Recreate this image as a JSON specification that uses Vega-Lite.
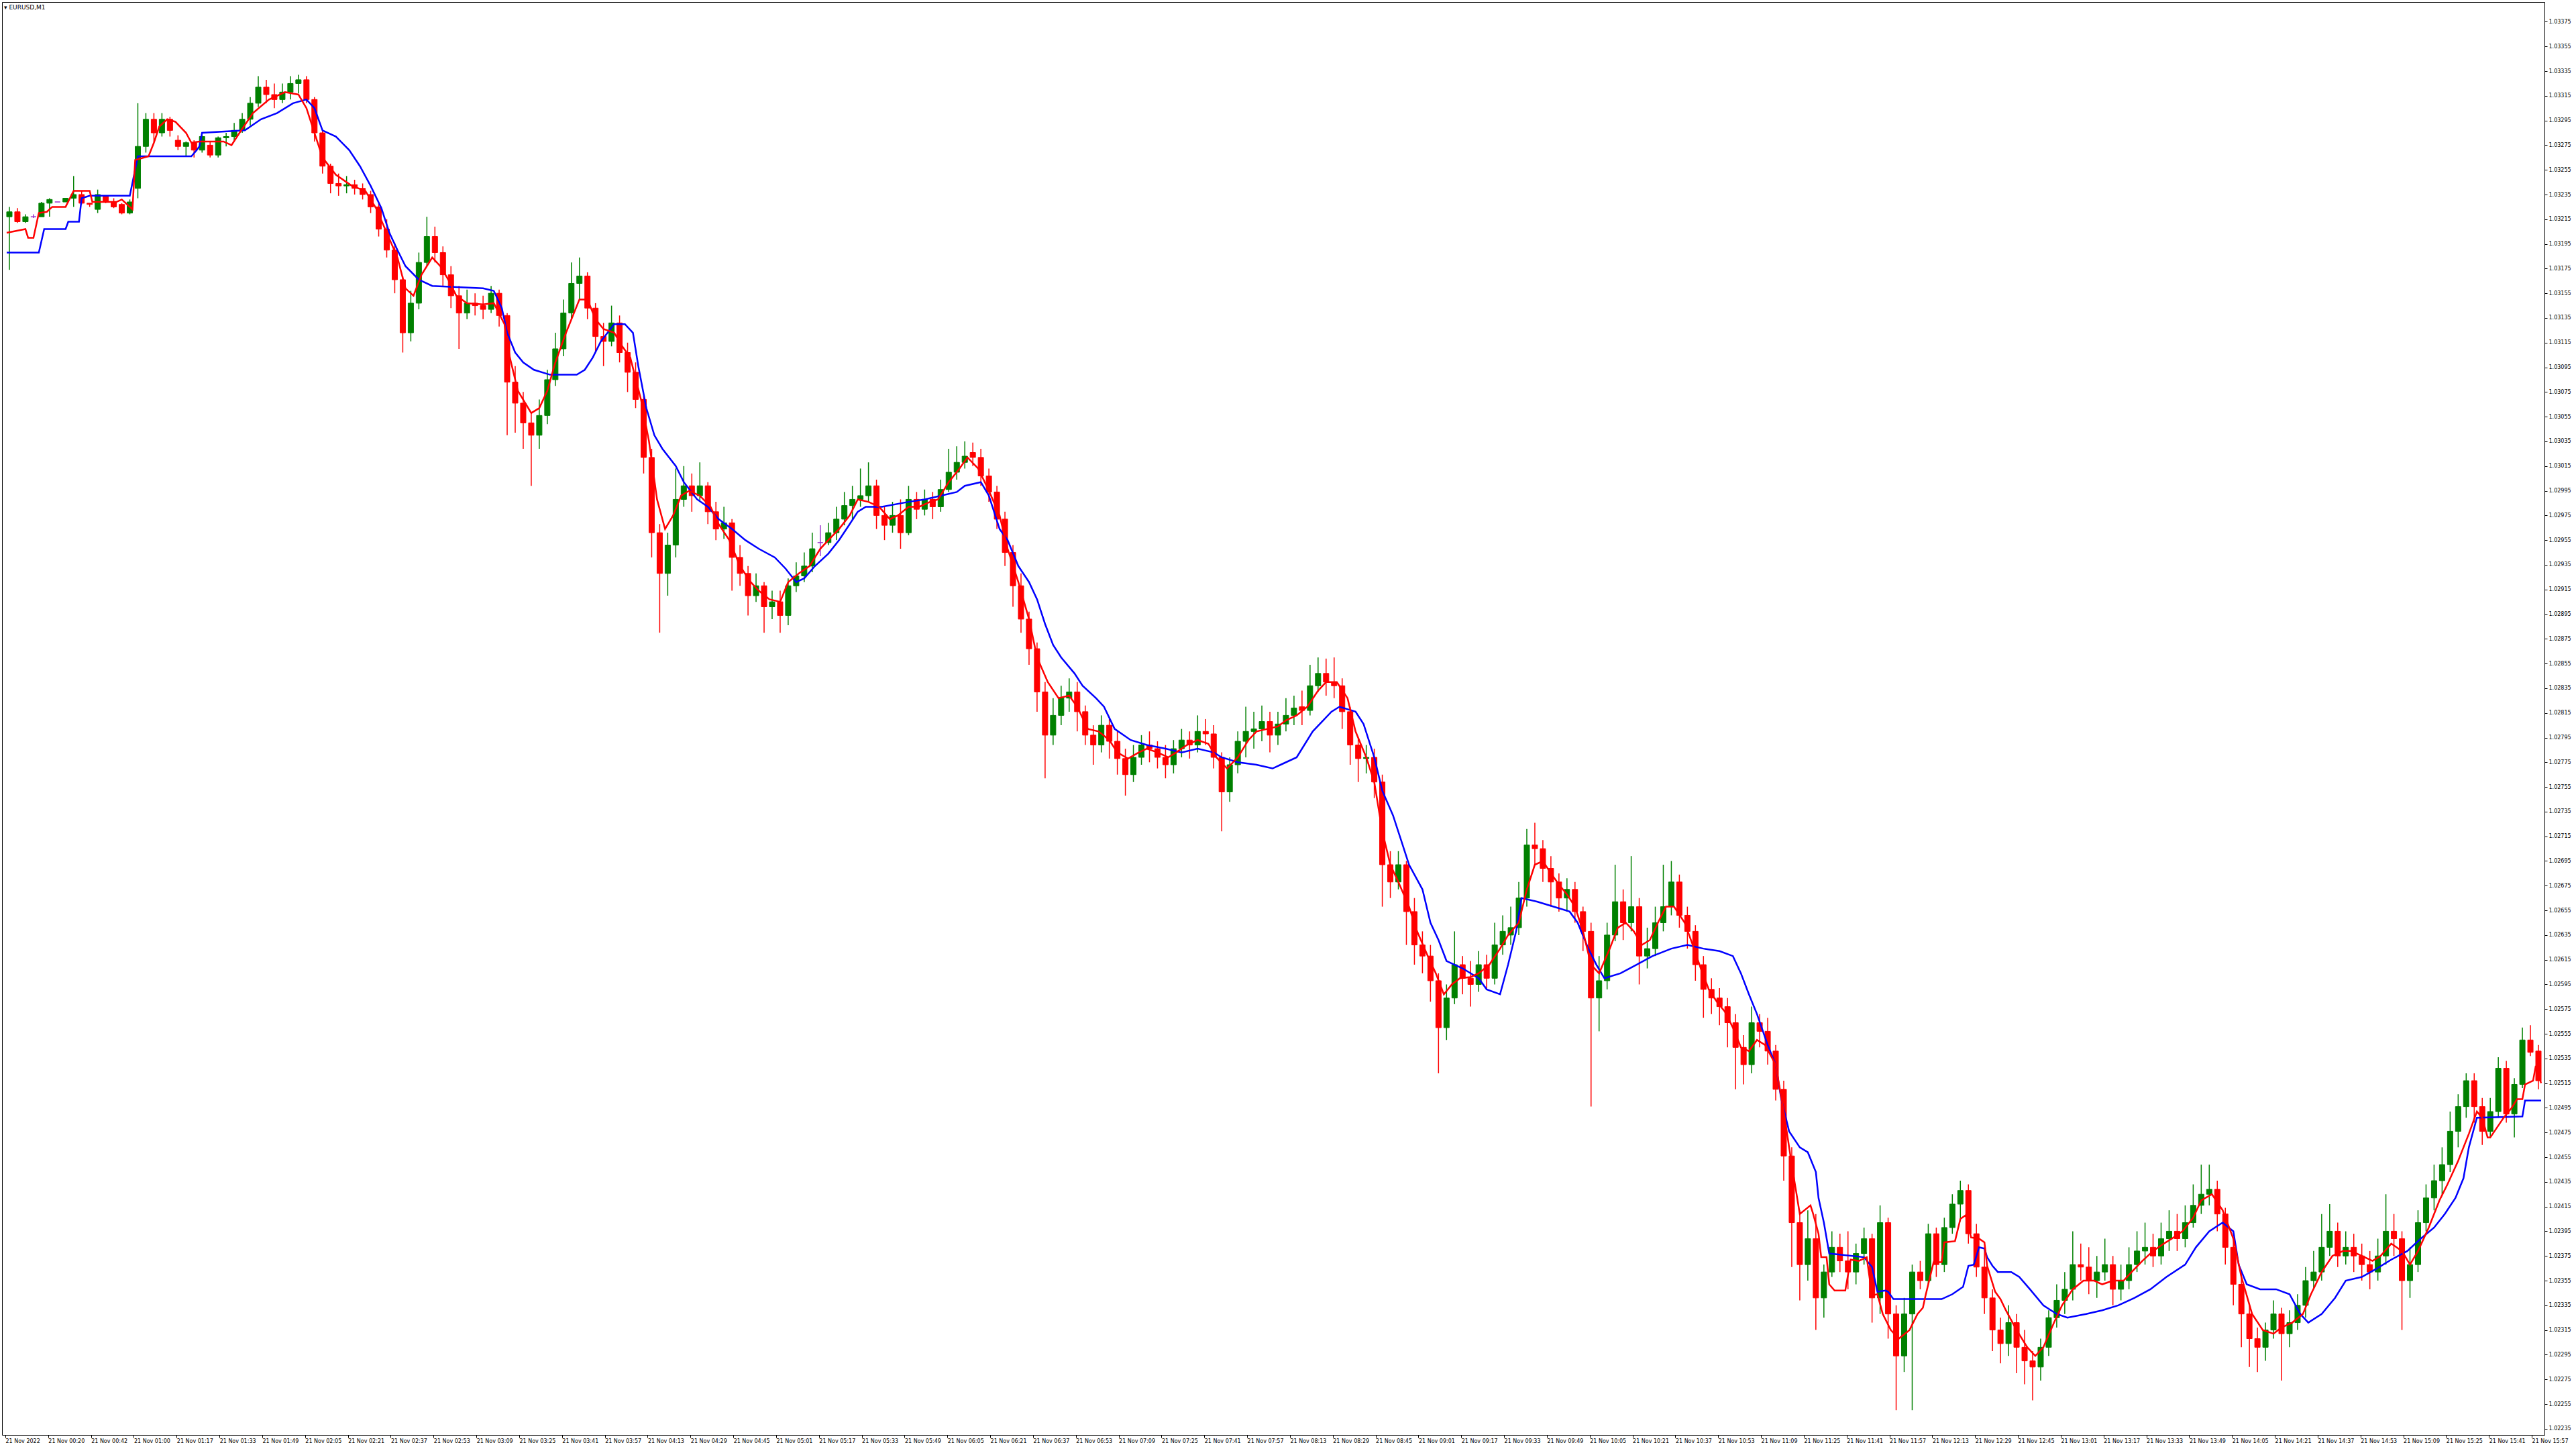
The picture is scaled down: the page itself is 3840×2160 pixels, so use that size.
{
"$schema": "https://vega.github.io/schema/vega-lite/v6.json",
"width": 3790, "height": 2136,
"autosize": {"type": "none"},
"padding": {"left": 3, "top": 3, "right": 47, "bottom": 21},
"background": "#ffffff",
"config": {"view": {"stroke": "#000000", "strokeWidth": 1}, "font": "DejaVu Sans", "axis": {"labelOverlap": false}},
"title": {"text": "▾ EURUSD,M1", "anchor": "start", "frame": "group", "orient": "none", "offset": 0, "baseline": "top", "align": "left", "dx": 3, "dy": 4, "fontSize": 9, "fontWeight": "normal", "font": "DejaVu Sans", "color": "#000000"},
"datasets": {
"candles": [
{"i":1,"o":1.03217,"h":1.03225,"l":1.03174,"c":1.03221},
{"i":4,"o":1.03221,"h":1.03224,"l":1.03212,"c":1.03213},
{"i":7,"o":1.03213,"h":1.03219,"l":1.03212,"c":1.03217},
{"i":10,"o":1.03217,"h":1.03219,"l":1.03216,"c":1.03217},
{"i":13,"o":1.03217,"h":1.03229,"l":1.03217,"c":1.03228},
{"i":16,"o":1.03228,"h":1.03232,"l":1.03217,"c":1.03231},
{"i":19,"o":1.03229,"h":1.03229,"l":1.03229,"c":1.03229},
{"i":22,"o":1.03229,"h":1.03232,"l":1.03229,"c":1.03232},
{"i":25,"o":1.03232,"h":1.0325,"l":1.03225,"c":1.03235},
{"i":28,"o":1.03235,"h":1.03238,"l":1.03227,"c":1.03228},
{"i":31,"o":1.03228,"h":1.03228,"l":1.03225,"c":1.03227},
{"i":34,"o":1.03223,"h":1.03239,"l":1.0322,"c":1.03235},
{"i":37,"o":1.03234,"h":1.03234,"l":1.03228,"c":1.03229},
{"i":40,"o":1.03229,"h":1.03232,"l":1.03224,"c":1.03225},
{"i":43,"o":1.03227,"h":1.03228,"l":1.03219,"c":1.0322},
{"i":46,"o":1.0322,"h":1.03231,"l":1.03219,"c":1.03229},
{"i":49,"o":1.0324,"h":1.03309,"l":1.03232,"c":1.03274},
{"i":52,"o":1.03274,"h":1.03301,"l":1.03269,"c":1.03296},
{"i":55,"o":1.03296,"h":1.03301,"l":1.03278,"c":1.03285},
{"i":58,"o":1.03285,"h":1.03301,"l":1.03282,"c":1.03296},
{"i":61,"o":1.03296,"h":1.03298,"l":1.03282,"c":1.03287},
{"i":64,"o":1.03279,"h":1.03283,"l":1.03271,"c":1.03274},
{"i":67,"o":1.03274,"h":1.03278,"l":1.03266,"c":1.03277},
{"i":70,"o":1.03277,"h":1.03279,"l":1.03265,"c":1.03271},
{"i":73,"o":1.03271,"h":1.03285,"l":1.03269,"c":1.03282},
{"i":76,"o":1.03275,"h":1.03278,"l":1.03265,"c":1.03267},
{"i":79,"o":1.03267,"h":1.03282,"l":1.03265,"c":1.03281},
{"i":82,"o":1.03281,"h":1.03285,"l":1.03274,"c":1.03282},
{"i":85,"o":1.03282,"h":1.03293,"l":1.03278,"c":1.03287},
{"i":88,"o":1.03287,"h":1.03301,"l":1.03285,"c":1.03296},
{"i":91,"o":1.03296,"h":1.03314,"l":1.03291,"c":1.03309},
{"i":94,"o":1.03309,"h":1.03331,"l":1.03306,"c":1.03322},
{"i":97,"o":1.03322,"h":1.03328,"l":1.03309,"c":1.03316},
{"i":100,"o":1.03316,"h":1.03325,"l":1.03305,"c":1.03312},
{"i":103,"o":1.03312,"h":1.03325,"l":1.03309,"c":1.03318},
{"i":106,"o":1.03318,"h":1.03331,"l":1.03312,"c":1.03325},
{"i":109,"o":1.03325,"h":1.03332,"l":1.03317,"c":1.03328},
{"i":112,"o":1.03328,"h":1.03331,"l":1.03309,"c":1.03312},
{"i":115,"o":1.03312,"h":1.03314,"l":1.03278,"c":1.03285},
{"i":118,"o":1.03285,"h":1.03287,"l":1.03252,"c":1.03258},
{"i":121,"o":1.03258,"h":1.0326,"l":1.03236,"c":1.03244},
{"i":124,"o":1.03244,"h":1.03252,"l":1.03234,"c":1.03242},
{"i":127,"o":1.03242,"h":1.0325,"l":1.03236,"c":1.03243},
{"i":130,"o":1.03243,"h":1.03247,"l":1.03235,"c":1.0324},
{"i":133,"o":1.0324,"h":1.03244,"l":1.03231,"c":1.03235},
{"i":136,"o":1.03235,"h":1.03238,"l":1.0322,"c":1.03225},
{"i":139,"o":1.03225,"h":1.03228,"l":1.03201,"c":1.03207},
{"i":142,"o":1.03207,"h":1.03215,"l":1.03184,"c":1.0319},
{"i":145,"o":1.0319,"h":1.03196,"l":1.03155,"c":1.03166},
{"i":148,"o":1.03166,"h":1.03169,"l":1.03107,"c":1.03123},
{"i":151,"o":1.03123,"h":1.03157,"l":1.03116,"c":1.03147},
{"i":154,"o":1.03147,"h":1.03188,"l":1.03142,"c":1.0318},
{"i":157,"o":1.0318,"h":1.03217,"l":1.03177,"c":1.03201},
{"i":160,"o":1.03201,"h":1.03209,"l":1.0318,"c":1.03188},
{"i":163,"o":1.03188,"h":1.03193,"l":1.03161,"c":1.0317},
{"i":166,"o":1.0317,"h":1.03177,"l":1.03143,"c":1.03153},
{"i":169,"o":1.03153,"h":1.03161,"l":1.0311,"c":1.03139},
{"i":172,"o":1.03139,"h":1.03158,"l":1.03134,"c":1.03147},
{"i":175,"o":1.03147,"h":1.03155,"l":1.03137,"c":1.03145},
{"i":178,"o":1.03145,"h":1.03153,"l":1.03134,"c":1.03142},
{"i":181,"o":1.03142,"h":1.03161,"l":1.03139,"c":1.03155},
{"i":184,"o":1.03155,"h":1.03158,"l":1.03128,"c":1.03137},
{"i":187,"o":1.03137,"h":1.03139,"l":1.0304,"c":1.03083},
{"i":190,"o":1.03083,"h":1.03096,"l":1.03042,"c":1.03066},
{"i":193,"o":1.03066,"h":1.03075,"l":1.03029,"c":1.0305},
{"i":196,"o":1.0305,"h":1.03058,"l":1.02999,"c":1.0304},
{"i":199,"o":1.0304,"h":1.03069,"l":1.03029,"c":1.03056},
{"i":202,"o":1.03056,"h":1.03093,"l":1.03049,"c":1.03085},
{"i":205,"o":1.03085,"h":1.03123,"l":1.0308,"c":1.0311},
{"i":208,"o":1.0311,"h":1.0315,"l":1.03104,"c":1.03139},
{"i":211,"o":1.03139,"h":1.0318,"l":1.03134,"c":1.03163},
{"i":214,"o":1.03163,"h":1.03184,"l":1.0315,"c":1.03169},
{"i":217,"o":1.03169,"h":1.03172,"l":1.03134,"c":1.03143},
{"i":220,"o":1.03143,"h":1.03147,"l":1.03107,"c":1.0312},
{"i":223,"o":1.0312,"h":1.03131,"l":1.03096,"c":1.03116},
{"i":226,"o":1.03116,"h":1.03145,"l":1.03112,"c":1.03131},
{"i":229,"o":1.03131,"h":1.03137,"l":1.03099,"c":1.03107},
{"i":232,"o":1.03107,"h":1.03115,"l":1.03075,"c":1.03091},
{"i":235,"o":1.03091,"h":1.03099,"l":1.03062,"c":1.03069},
{"i":238,"o":1.03069,"h":1.03072,"l":1.03009,"c":1.03022},
{"i":241,"o":1.03022,"h":1.03029,"l":1.02941,"c":1.02961},
{"i":244,"o":1.02961,"h":1.02968,"l":1.0288,"c":1.02928},
{"i":247,"o":1.02928,"h":1.02961,"l":1.0291,"c":1.02951},
{"i":250,"o":1.02951,"h":1.03013,"l":1.02941,"c":1.02988},
{"i":253,"o":1.02988,"h":1.03015,"l":1.02982,"c":1.02999},
{"i":256,"o":1.02999,"h":1.03009,"l":1.02978,"c":1.02991},
{"i":259,"o":1.02991,"h":1.03018,"l":1.02986,"c":1.02999},
{"i":262,"o":1.02999,"h":1.03002,"l":1.02968,"c":1.02978},
{"i":265,"o":1.02978,"h":1.02986,"l":1.02955,"c":1.02964},
{"i":268,"o":1.02964,"h":1.02982,"l":1.02956,"c":1.02969},
{"i":271,"o":1.02969,"h":1.02972,"l":1.02914,"c":1.02941},
{"i":274,"o":1.02941,"h":1.02951,"l":1.02918,"c":1.02928},
{"i":277,"o":1.02928,"h":1.02934,"l":1.02894,"c":1.0291},
{"i":280,"o":1.0291,"h":1.02928,"l":1.02905,"c":1.02918},
{"i":283,"o":1.02918,"h":1.02921,"l":1.0288,"c":1.02901},
{"i":286,"o":1.02901,"h":1.02914,"l":1.02891,"c":1.02905},
{"i":289,"o":1.02905,"h":1.02914,"l":1.0288,"c":1.02894},
{"i":292,"o":1.02894,"h":1.02924,"l":1.02886,"c":1.02918},
{"i":295,"o":1.02918,"h":1.02937,"l":1.02913,"c":1.02926},
{"i":298,"o":1.02926,"h":1.02945,"l":1.02921,"c":1.02934},
{"i":301,"o":1.02934,"h":1.02961,"l":1.02929,"c":1.02948},
{"i":304,"o":1.02953,"h":1.02967,"l":1.02942,"c":1.02953},
{"i":307,"o":1.02953,"h":1.02969,"l":1.02951,"c":1.02961},
{"i":310,"o":1.02961,"h":1.02982,"l":1.02955,"c":1.02972},
{"i":313,"o":1.02972,"h":1.02994,"l":1.02967,"c":1.02983},
{"i":316,"o":1.02983,"h":1.02999,"l":1.02972,"c":1.02988},
{"i":319,"o":1.02988,"h":1.03013,"l":1.02982,"c":1.02991},
{"i":322,"o":1.02991,"h":1.03018,"l":1.02986,"c":1.02999},
{"i":325,"o":1.02999,"h":1.03004,"l":1.02964,"c":1.02975},
{"i":328,"o":1.02975,"h":1.02982,"l":1.02955,"c":1.02967},
{"i":331,"o":1.02967,"h":1.02986,"l":1.02961,"c":1.02975},
{"i":334,"o":1.02975,"h":1.02988,"l":1.02948,"c":1.02961},
{"i":337,"o":1.02961,"h":1.02999,"l":1.02959,"c":1.02988},
{"i":340,"o":1.02988,"h":1.02994,"l":1.02972,"c":1.0298},
{"i":343,"o":1.0298,"h":1.02996,"l":1.02975,"c":1.02988},
{"i":346,"o":1.02988,"h":1.02994,"l":1.02972,"c":1.02982},
{"i":349,"o":1.02982,"h":1.03004,"l":1.02978,"c":1.02996},
{"i":352,"o":1.02996,"h":1.03029,"l":1.02994,"c":1.0301},
{"i":355,"o":1.0301,"h":1.03031,"l":1.03004,"c":1.03018},
{"i":358,"o":1.03018,"h":1.03035,"l":1.03013,"c":1.03023},
{"i":361,"o":1.03026,"h":1.03034,"l":1.03015,"c":1.03022},
{"i":364,"o":1.03022,"h":1.03029,"l":1.02999,"c":1.03007},
{"i":367,"o":1.03007,"h":1.03013,"l":1.02986,"c":1.02994},
{"i":370,"o":1.02994,"h":1.02999,"l":1.02964,"c":1.02972},
{"i":373,"o":1.02972,"h":1.02978,"l":1.02934,"c":1.02945},
{"i":376,"o":1.02945,"h":1.02951,"l":1.02901,"c":1.02918},
{"i":379,"o":1.02918,"h":1.02928,"l":1.0288,"c":1.02891},
{"i":382,"o":1.02891,"h":1.02897,"l":1.02854,"c":1.02867},
{"i":385,"o":1.02867,"h":1.02872,"l":1.02816,"c":1.02832},
{"i":388,"o":1.02832,"h":1.0284,"l":1.02762,"c":1.02797},
{"i":391,"o":1.02797,"h":1.02827,"l":1.02789,"c":1.02813},
{"i":394,"o":1.02813,"h":1.02837,"l":1.02805,"c":1.02827},
{"i":397,"o":1.02827,"h":1.02843,"l":1.02816,"c":1.02832},
{"i":400,"o":1.02832,"h":1.0284,"l":1.028,"c":1.02816},
{"i":403,"o":1.02816,"h":1.02821,"l":1.02789,"c":1.02797},
{"i":406,"o":1.02797,"h":1.02805,"l":1.02773,"c":1.02789},
{"i":409,"o":1.02789,"h":1.02813,"l":1.02783,"c":1.02805},
{"i":412,"o":1.02805,"h":1.0281,"l":1.02778,"c":1.02792},
{"i":415,"o":1.02792,"h":1.028,"l":1.02765,"c":1.02778},
{"i":418,"o":1.02778,"h":1.02786,"l":1.02748,"c":1.02765},
{"i":421,"o":1.02765,"h":1.02789,"l":1.02759,"c":1.02779},
{"i":424,"o":1.02779,"h":1.02797,"l":1.02773,"c":1.02789},
{"i":427,"o":1.02789,"h":1.028,"l":1.02775,"c":1.02786},
{"i":430,"o":1.02786,"h":1.02792,"l":1.0277,"c":1.02779},
{"i":433,"o":1.02779,"h":1.02789,"l":1.02762,"c":1.02773},
{"i":436,"o":1.02773,"h":1.02793,"l":1.02766,"c":1.02786},
{"i":439,"o":1.02786,"h":1.02802,"l":1.02779,"c":1.02793},
{"i":442,"o":1.02793,"h":1.028,"l":1.02778,"c":1.02789},
{"i":445,"o":1.02789,"h":1.02813,"l":1.02783,"c":1.028},
{"i":448,"o":1.028,"h":1.0281,"l":1.02789,"c":1.02798},
{"i":451,"o":1.02798,"h":1.02805,"l":1.0277,"c":1.02779},
{"i":454,"o":1.02779,"h":1.02783,"l":1.02719,"c":1.02751},
{"i":457,"o":1.02751,"h":1.02779,"l":1.02743,"c":1.02773},
{"i":460,"o":1.02773,"h":1.028,"l":1.02766,"c":1.02792},
{"i":463,"o":1.02792,"h":1.0282,"l":1.02779,"c":1.028},
{"i":466,"o":1.028,"h":1.02816,"l":1.02786,"c":1.02802},
{"i":469,"o":1.02802,"h":1.02821,"l":1.02792,"c":1.02808},
{"i":472,"o":1.02808,"h":1.02816,"l":1.02783,"c":1.02797},
{"i":475,"o":1.02797,"h":1.02816,"l":1.02789,"c":1.02806},
{"i":478,"o":1.02806,"h":1.02827,"l":1.028,"c":1.02813},
{"i":481,"o":1.02813,"h":1.02829,"l":1.02805,"c":1.02819},
{"i":484,"o":1.0282,"h":1.02833,"l":1.02805,"c":1.02817},
{"i":487,"o":1.02817,"h":1.02854,"l":1.02813,"c":1.02837},
{"i":490,"o":1.02837,"h":1.0286,"l":1.02832,"c":1.02847},
{"i":493,"o":1.02847,"h":1.02859,"l":1.02829,"c":1.0284},
{"i":496,"o":1.0284,"h":1.0286,"l":1.02827,"c":1.02837},
{"i":499,"o":1.02837,"h":1.02843,"l":1.02802,"c":1.02816},
{"i":502,"o":1.02816,"h":1.0282,"l":1.02773,"c":1.02789},
{"i":505,"o":1.02789,"h":1.02794,"l":1.02759,"c":1.02778},
{"i":508,"o":1.02778,"h":1.02789,"l":1.02766,"c":1.02779},
{"i":511,"o":1.02779,"h":1.02786,"l":1.02746,"c":1.02759},
{"i":514,"o":1.02759,"h":1.02765,"l":1.02658,"c":1.02692},
{"i":517,"o":1.02692,"h":1.02703,"l":1.02665,"c":1.02678},
{"i":520,"o":1.02678,"h":1.02703,"l":1.02672,"c":1.02692},
{"i":523,"o":1.02692,"h":1.02695,"l":1.02627,"c":1.02654},
{"i":526,"o":1.02654,"h":1.02665,"l":1.02611,"c":1.02627},
{"i":529,"o":1.02627,"h":1.02638,"l":1.02604,"c":1.02618},
{"i":532,"o":1.02618,"h":1.02627,"l":1.02581,"c":1.02598},
{"i":535,"o":1.02598,"h":1.02604,"l":1.02523,"c":1.0256},
{"i":538,"o":1.0256,"h":1.02595,"l":1.0255,"c":1.02584},
{"i":541,"o":1.02584,"h":1.02638,"l":1.02579,"c":1.02611},
{"i":544,"o":1.02611,"h":1.02618,"l":1.02587,"c":1.026},
{"i":547,"o":1.026,"h":1.02614,"l":1.02577,"c":1.02595},
{"i":550,"o":1.02595,"h":1.02622,"l":1.02589,"c":1.02611},
{"i":553,"o":1.02611,"h":1.02619,"l":1.02591,"c":1.026},
{"i":556,"o":1.026,"h":1.02645,"l":1.02595,"c":1.02627},
{"i":559,"o":1.02627,"h":1.02651,"l":1.02619,"c":1.02638},
{"i":562,"o":1.02635,"h":1.02658,"l":1.02627,"c":1.02641},
{"i":565,"o":1.02641,"h":1.02678,"l":1.02635,"c":1.02665},
{"i":568,"o":1.02665,"h":1.02721,"l":1.02658,"c":1.02708},
{"i":571,"o":1.02708,"h":1.02726,"l":1.02692,"c":1.02705},
{"i":574,"o":1.02705,"h":1.02712,"l":1.02678,"c":1.02689},
{"i":577,"o":1.02689,"h":1.02699,"l":1.02658,"c":1.02678},
{"i":580,"o":1.02678,"h":1.02685,"l":1.02654,"c":1.02665},
{"i":583,"o":1.02665,"h":1.02681,"l":1.02654,"c":1.02672},
{"i":586,"o":1.02672,"h":1.02678,"l":1.02645,"c":1.02654},
{"i":589,"o":1.02654,"h":1.02658,"l":1.02622,"c":1.02638},
{"i":592,"o":1.02638,"h":1.02645,"l":1.02496,"c":1.02584},
{"i":595,"o":1.02584,"h":1.02618,"l":1.02557,"c":1.02598},
{"i":598,"o":1.02598,"h":1.02645,"l":1.02591,"c":1.02635},
{"i":601,"o":1.02635,"h":1.02692,"l":1.0263,"c":1.02662},
{"i":604,"o":1.02662,"h":1.02672,"l":1.02631,"c":1.02645},
{"i":607,"o":1.02645,"h":1.02699,"l":1.02638,"c":1.02658},
{"i":610,"o":1.02658,"h":1.02665,"l":1.02595,"c":1.02618},
{"i":613,"o":1.02618,"h":1.02641,"l":1.02608,"c":1.02624},
{"i":616,"o":1.02624,"h":1.02658,"l":1.02618,"c":1.02645},
{"i":619,"o":1.02645,"h":1.02692,"l":1.02638,"c":1.02658},
{"i":622,"o":1.02658,"h":1.02695,"l":1.02651,"c":1.02678},
{"i":625,"o":1.02678,"h":1.02684,"l":1.02641,"c":1.02651},
{"i":628,"o":1.02651,"h":1.02658,"l":1.02624,"c":1.02638},
{"i":631,"o":1.02638,"h":1.02643,"l":1.02598,"c":1.02611},
{"i":634,"o":1.02611,"h":1.02618,"l":1.02568,"c":1.02591},
{"i":637,"o":1.02591,"h":1.026,"l":1.02571,"c":1.02584},
{"i":640,"o":1.02584,"h":1.02592,"l":1.02562,"c":1.02577},
{"i":643,"o":1.02577,"h":1.02584,"l":1.02544,"c":1.02564},
{"i":646,"o":1.02564,"h":1.02571,"l":1.0251,"c":1.02544},
{"i":649,"o":1.02544,"h":1.02554,"l":1.02514,"c":1.0253},
{"i":652,"o":1.0253,"h":1.02577,"l":1.02523,"c":1.02564},
{"i":655,"o":1.02564,"h":1.02571,"l":1.02544,"c":1.02557},
{"i":658,"o":1.02557,"h":1.02568,"l":1.0253,"c":1.02541},
{"i":661,"o":1.02541,"h":1.02546,"l":1.02501,"c":1.0251},
{"i":664,"o":1.0251,"h":1.02517,"l":1.02436,"c":1.02456},
{"i":667,"o":1.02456,"h":1.02463,"l":1.02366,"c":1.02402},
{"i":670,"o":1.02402,"h":1.02412,"l":1.02339,"c":1.02368},
{"i":673,"o":1.02368,"h":1.02412,"l":1.02355,"c":1.02389},
{"i":676,"o":1.02389,"h":1.02409,"l":1.02315,"c":1.02341},
{"i":679,"o":1.02341,"h":1.02368,"l":1.02325,"c":1.02362},
{"i":682,"o":1.02362,"h":1.02395,"l":1.02358,"c":1.02382},
{"i":685,"o":1.02382,"h":1.02393,"l":1.02362,"c":1.02371},
{"i":688,"o":1.02371,"h":1.02395,"l":1.02348,"c":1.02362},
{"i":691,"o":1.02362,"h":1.02385,"l":1.02352,"c":1.02377},
{"i":694,"o":1.02377,"h":1.02398,"l":1.02368,"c":1.02389},
{"i":697,"o":1.02389,"h":1.02393,"l":1.02321,"c":1.02341},
{"i":700,"o":1.02341,"h":1.02416,"l":1.02328,"c":1.02402},
{"i":703,"o":1.02402,"h":1.02406,"l":1.02308,"c":1.02328},
{"i":706,"o":1.02328,"h":1.02335,"l":1.0225,"c":1.02294},
{"i":709,"o":1.02294,"h":1.02341,"l":1.02281,"c":1.02328},
{"i":712,"o":1.02328,"h":1.02368,"l":1.0225,"c":1.02362},
{"i":715,"o":1.02362,"h":1.02371,"l":1.02348,"c":1.02355},
{"i":718,"o":1.02355,"h":1.02401,"l":1.02352,"c":1.02393},
{"i":721,"o":1.02393,"h":1.02398,"l":1.02358,"c":1.02368},
{"i":724,"o":1.02368,"h":1.02406,"l":1.02362,"c":1.02398},
{"i":727,"o":1.02398,"h":1.02425,"l":1.02393,"c":1.02417},
{"i":730,"o":1.02417,"h":1.02436,"l":1.02403,"c":1.02428},
{"i":733,"o":1.02428,"h":1.02433,"l":1.02385,"c":1.02393},
{"i":736,"o":1.02393,"h":1.02401,"l":1.02358,"c":1.02366},
{"i":739,"o":1.02366,"h":1.02382,"l":1.02328,"c":1.02341},
{"i":742,"o":1.02341,"h":1.02348,"l":1.02298,"c":1.02315},
{"i":745,"o":1.02315,"h":1.02325,"l":1.02288,"c":1.02304},
{"i":748,"o":1.02304,"h":1.02335,"l":1.02294,"c":1.02321},
{"i":751,"o":1.02321,"h":1.02328,"l":1.0228,"c":1.02301},
{"i":754,"o":1.02301,"h":1.02315,"l":1.02271,"c":1.0229},
{"i":757,"o":1.0229,"h":1.02298,"l":1.02258,"c":1.02285},
{"i":760,"o":1.02285,"h":1.02308,"l":1.02274,"c":1.02301},
{"i":763,"o":1.02301,"h":1.02331,"l":1.02294,"c":1.02325},
{"i":766,"o":1.02325,"h":1.02352,"l":1.02317,"c":1.02339},
{"i":769,"o":1.02339,"h":1.02362,"l":1.02328,"c":1.02348},
{"i":772,"o":1.02348,"h":1.02395,"l":1.02339,"c":1.02368},
{"i":775,"o":1.02368,"h":1.02385,"l":1.02355,"c":1.02366},
{"i":778,"o":1.02366,"h":1.02382,"l":1.02344,"c":1.02355},
{"i":781,"o":1.02355,"h":1.02375,"l":1.02341,"c":1.02362},
{"i":784,"o":1.02362,"h":1.02389,"l":1.02355,"c":1.02368},
{"i":787,"o":1.02368,"h":1.02375,"l":1.02335,"c":1.02348},
{"i":790,"o":1.02348,"h":1.02368,"l":1.02339,"c":1.02355},
{"i":793,"o":1.02355,"h":1.02382,"l":1.02348,"c":1.02368},
{"i":796,"o":1.02368,"h":1.02395,"l":1.02362,"c":1.02379},
{"i":799,"o":1.02379,"h":1.02402,"l":1.02368,"c":1.02382},
{"i":802,"o":1.02382,"h":1.02393,"l":1.02366,"c":1.02375},
{"i":805,"o":1.02375,"h":1.02402,"l":1.02368,"c":1.02389},
{"i":808,"o":1.02389,"h":1.02412,"l":1.02379,"c":1.02395},
{"i":811,"o":1.02395,"h":1.02409,"l":1.02379,"c":1.02389},
{"i":814,"o":1.02389,"h":1.02416,"l":1.02382,"c":1.02402},
{"i":817,"o":1.02402,"h":1.02433,"l":1.02398,"c":1.02416},
{"i":820,"o":1.02416,"h":1.02449,"l":1.02409,"c":1.02425},
{"i":823,"o":1.02425,"h":1.02449,"l":1.02416,"c":1.02429},
{"i":826,"o":1.02429,"h":1.02436,"l":1.02395,"c":1.02409},
{"i":829,"o":1.02409,"h":1.02414,"l":1.02368,"c":1.02382},
{"i":832,"o":1.02382,"h":1.02389,"l":1.02335,"c":1.02352},
{"i":835,"o":1.02352,"h":1.02362,"l":1.02301,"c":1.02328},
{"i":838,"o":1.02328,"h":1.02335,"l":1.02285,"c":1.02308},
{"i":841,"o":1.02308,"h":1.02317,"l":1.02281,"c":1.02301},
{"i":844,"o":1.02301,"h":1.02321,"l":1.0229,"c":1.02315},
{"i":847,"o":1.02315,"h":1.02339,"l":1.02308,"c":1.02328},
{"i":850,"o":1.02328,"h":1.02333,"l":1.02274,"c":1.02312},
{"i":853,"o":1.02312,"h":1.02331,"l":1.02301,"c":1.02321},
{"i":856,"o":1.02321,"h":1.02344,"l":1.02315,"c":1.02335},
{"i":859,"o":1.02335,"h":1.02366,"l":1.02325,"c":1.02355},
{"i":862,"o":1.02355,"h":1.02379,"l":1.02348,"c":1.02362},
{"i":865,"o":1.02362,"h":1.02409,"l":1.02355,"c":1.02382},
{"i":868,"o":1.02382,"h":1.02417,"l":1.02375,"c":1.02395},
{"i":871,"o":1.02395,"h":1.02402,"l":1.02366,"c":1.02375},
{"i":874,"o":1.02375,"h":1.02395,"l":1.02368,"c":1.02382},
{"i":877,"o":1.02382,"h":1.02393,"l":1.02362,"c":1.02375},
{"i":880,"o":1.02375,"h":1.02385,"l":1.02355,"c":1.02368},
{"i":883,"o":1.02368,"h":1.02379,"l":1.02348,"c":1.02362},
{"i":886,"o":1.02362,"h":1.02389,"l":1.02355,"c":1.02375},
{"i":889,"o":1.02375,"h":1.02425,"l":1.02368,"c":1.02395},
{"i":892,"o":1.02395,"h":1.02409,"l":1.02375,"c":1.02389},
{"i":895,"o":1.02389,"h":1.02395,"l":1.02315,"c":1.02355},
{"i":898,"o":1.02355,"h":1.02382,"l":1.02341,"c":1.02368},
{"i":901,"o":1.02368,"h":1.02412,"l":1.02362,"c":1.02402},
{"i":904,"o":1.02402,"h":1.02433,"l":1.02395,"c":1.02422},
{"i":907,"o":1.02422,"h":1.02449,"l":1.02412,"c":1.02436},
{"i":910,"o":1.02436,"h":1.02463,"l":1.02425,"c":1.02449},
{"i":913,"o":1.02449,"h":1.02492,"l":1.02443,"c":1.02476},
{"i":916,"o":1.02476,"h":1.02506,"l":1.02463,"c":1.02496},
{"i":919,"o":1.02496,"h":1.02523,"l":1.02487,"c":1.02517},
{"i":922,"o":1.02517,"h":1.02523,"l":1.02483,"c":1.02496},
{"i":925,"o":1.02496,"h":1.02503,"l":1.02465,"c":1.02476},
{"i":928,"o":1.02476,"h":1.02503,"l":1.02471,"c":1.02492},
{"i":931,"o":1.02492,"h":1.02536,"l":1.02487,"c":1.02527},
{"i":934,"o":1.02527,"h":1.02533,"l":1.02483,"c":1.0249},
{"i":937,"o":1.0249,"h":1.02519,"l":1.02471,"c":1.02514},
{"i":940,"o":1.02514,"h":1.0256,"l":1.02511,"c":1.0255},
{"i":943,"o":1.0255,"h":1.02562,"l":1.02537,"c":1.0254},
{"i":946,"o":1.02541,"h":1.02546,"l":1.0251,"c":1.02517}
],
"red": [
{"i":0,"v":1.03204},{"i":7,"v":1.03207},{"i":8,"v":1.032},{"i":10,"v":1.032},{"i":12,"v":1.0322},{"i":15,"v":1.03221},{"i":17,"v":1.03225},{"i":22,"v":1.03225},{"i":25,"v":1.03238},{"i":31,"v":1.03238},{"i":32,"v":1.03229},{"i":41,"v":1.03229},{"i":43,"v":1.03231},{"i":45,"v":1.03227},{"i":47,"v":1.03223},{"i":48,"v":1.03263},{"i":53,"v":1.03266},{"i":55,"v":1.03277},{"i":57,"v":1.0329},{"i":60,"v":1.03296},{"i":63,"v":1.03294},{"i":67,"v":1.03285},{"i":69,"v":1.03277},{"i":72,"v":1.03278},{"i":81,"v":1.03278},{"i":84,"v":1.03275},{"i":87,"v":1.03285},{"i":92,"v":1.03301},{"i":98,"v":1.03312},{"i":104,"v":1.03318},{"i":109,"v":1.03316},{"i":112,"v":1.03305},{"i":115,"v":1.03285},{"i":118,"v":1.03265},{"i":123,"v":1.03251},{"i":129,"v":1.03242},{"i":134,"v":1.03238},{"i":138,"v":1.03224},{"i":142,"v":1.03204},{"i":146,"v":1.03184},{"i":149,"v":1.03159},{"i":152,"v":1.03153},{"i":155,"v":1.0317},{"i":159,"v":1.03184},{"i":162,"v":1.03177},{"i":165,"v":1.03166},{"i":168,"v":1.03153},{"i":172,"v":1.03147},{"i":178,"v":1.03146},{"i":182,"v":1.03147},{"i":186,"v":1.0313},{"i":188,"v":1.03103},{"i":191,"v":1.03076},{"i":196,"v":1.03058},{"i":199,"v":1.03062},{"i":202,"v":1.03076},{"i":205,"v":1.03099},{"i":209,"v":1.03123},{"i":214,"v":1.0315},{"i":217,"v":1.0315},{"i":220,"v":1.03134},{"i":223,"v":1.03126},{"i":227,"v":1.03123},{"i":230,"v":1.03112},{"i":233,"v":1.03103},{"i":237,"v":1.03069},{"i":240,"v":1.03035},{"i":243,"v":1.02988},{"i":246,"v":1.02964},{"i":249,"v":1.02975},{"i":252,"v":1.02991},{"i":255,"v":1.02995},{"i":259,"v":1.02991},{"i":263,"v":1.02982},{"i":266,"v":1.02968},{"i":270,"v":1.02955},{"i":274,"v":1.02934},{"i":278,"v":1.02921},{"i":281,"v":1.02914},{"i":285,"v":1.02907},{"i":289,"v":1.02905},{"i":292,"v":1.02921},{"i":296,"v":1.02928},{"i":300,"v":1.02934},{"i":304,"v":1.02948},{"i":307,"v":1.02955},{"i":311,"v":1.02964},{"i":315,"v":1.02975},{"i":318,"v":1.02988},{"i":322,"v":1.02986},{"i":326,"v":1.02982},{"i":330,"v":1.02972},{"i":333,"v":1.02975},{"i":337,"v":1.02982},{"i":341,"v":1.02982},{"i":345,"v":1.02986},{"i":348,"v":1.02988},{"i":352,"v":1.03002},{"i":356,"v":1.03013},{"i":359,"v":1.03022},{"i":363,"v":1.03013},{"i":367,"v":1.02995},{"i":371,"v":1.02975},{"i":374,"v":1.02948},{"i":378,"v":1.02921},{"i":382,"v":1.02891},{"i":385,"v":1.0286},{"i":389,"v":1.0284},{"i":393,"v":1.02827},{"i":397,"v":1.02829},{"i":400,"v":1.0282},{"i":404,"v":1.02802},{"i":408,"v":1.028},{"i":412,"v":1.02793},{"i":415,"v":1.02783},{"i":419,"v":1.02778},{"i":423,"v":1.02783},{"i":426,"v":1.02786},{"i":430,"v":1.02783},{"i":434,"v":1.02779},{"i":437,"v":1.02783},{"i":441,"v":1.02789},{"i":445,"v":1.02793},{"i":449,"v":1.0279},{"i":452,"v":1.02779},{"i":456,"v":1.0277},{"i":460,"v":1.02779},{"i":464,"v":1.02793},{"i":467,"v":1.028},{"i":471,"v":1.02802},{"i":475,"v":1.02804},{"i":478,"v":1.02809},{"i":482,"v":1.02813},{"i":486,"v":1.0282},{"i":490,"v":1.02833},{"i":493,"v":1.0284},{"i":497,"v":1.0284},{"i":501,"v":1.02827},{"i":504,"v":1.028},{"i":508,"v":1.02779},{"i":511,"v":1.02759},{"i":514,"v":1.02719},{"i":517,"v":1.02692},{"i":520,"v":1.02678},{"i":524,"v":1.02658},{"i":527,"v":1.02638},{"i":531,"v":1.02618},{"i":534,"v":1.02604},{"i":537,"v":1.02587},{"i":540,"v":1.02595},{"i":543,"v":1.026},{"i":547,"v":1.02601},{"i":550,"v":1.02604},{"i":554,"v":1.02611},{"i":558,"v":1.02624},{"i":561,"v":1.02635},{"i":565,"v":1.02645},{"i":568,"v":1.02672},{"i":571,"v":1.02692},{"i":574,"v":1.02695},{"i":577,"v":1.02685},{"i":580,"v":1.02676},{"i":583,"v":1.02668},{"i":586,"v":1.02658},{"i":589,"v":1.02638},{"i":592,"v":1.02611},{"i":595,"v":1.02604},{"i":599,"v":1.02624},{"i":602,"v":1.02641},{"i":605,"v":1.02645},{"i":608,"v":1.02638},{"i":611,"v":1.02627},{"i":614,"v":1.02631},{"i":617,"v":1.02645},{"i":620,"v":1.02658},{"i":623,"v":1.02658},{"i":627,"v":1.02645},{"i":630,"v":1.02627},{"i":633,"v":1.02608},{"i":636,"v":1.02591},{"i":639,"v":1.02581},{"i":642,"v":1.02573},{"i":645,"v":1.0256},{"i":648,"v":1.02544},{"i":651,"v":1.02541},{"i":654,"v":1.0255},{"i":657,"v":1.02546},{"i":661,"v":1.0253},{"i":664,"v":1.02492},{"i":667,"v":1.02449},{"i":670,"v":1.02409},{"i":674,"v":1.02416},{"i":675,"v":1.02409},{"i":677,"v":1.02393},{"i":678,"v":1.02374},{"i":680,"v":1.02374},{"i":681,"v":1.02352},{"i":683,"v":1.02347},{"i":687,"v":1.02347},{"i":689,"v":1.02372},{"i":692,"v":1.02371},{"i":695,"v":1.02374},{"i":697,"v":1.02343},{"i":699,"v":1.02344},{"i":701,"v":1.02328},{"i":704,"v":1.02315},{"i":707,"v":1.02308},{"i":711,"v":1.02315},{"i":714,"v":1.02328},{"i":716,"v":1.02333},{"i":717,"v":1.02343},{"i":718,"v":1.02352},{"i":720,"v":1.0237},{"i":723,"v":1.0237},{"i":724,"v":1.02386},{"i":728,"v":1.02387},{"i":730,"v":1.02405},{"i":732,"v":1.02408},{"i":734,"v":1.0239},{"i":737,"v":1.02389},{"i":739,"v":1.02386},{"i":740,"v":1.02367},{"i":741,"v":1.0236},{"i":743,"v":1.02346},{"i":745,"v":1.0234},{"i":747,"v":1.02331},{"i":751,"v":1.02315},{"i":755,"v":1.02301},{"i":758,"v":1.02294},{"i":761,"v":1.02301},{"i":765,"v":1.02321},{"i":768,"v":1.02335},{"i":772,"v":1.02348},{"i":776,"v":1.02355},{"i":780,"v":1.02355},{"i":783,"v":1.02352},{"i":787,"v":1.02355},{"i":791,"v":1.02355},{"i":794,"v":1.02362},{"i":798,"v":1.02371},{"i":802,"v":1.02379},{"i":806,"v":1.02385},{"i":809,"v":1.02389},{"i":813,"v":1.02395},{"i":817,"v":1.02406},{"i":820,"v":1.0242},{"i":824,"v":1.02425},{"i":828,"v":1.02412},{"i":832,"v":1.02389},{"i":835,"v":1.02358},{"i":839,"v":1.02328},{"i":843,"v":1.02315},{"i":847,"v":1.02312},{"i":850,"v":1.02317},{"i":854,"v":1.02321},{"i":858,"v":1.02328},{"i":861,"v":1.02344},{"i":865,"v":1.02362},{"i":869,"v":1.02375},{"i":873,"v":1.02379},{"i":876,"v":1.02379},{"i":880,"v":1.02375},{"i":884,"v":1.02371},{"i":887,"v":1.02375},{"i":891,"v":1.02385},{"i":895,"v":1.02379},{"i":898,"v":1.02368},{"i":901,"v":1.02379},{"i":905,"v":1.02398},{"i":909,"v":1.0242},{"i":912,"v":1.02433},{"i":916,"v":1.02452},{"i":920,"v":1.02474},{"i":923,"v":1.02492},{"i":925,"v":1.02487},{"i":927,"v":1.02471},{"i":928,"v":1.02471},{"i":933,"v":1.02487},{"i":936,"v":1.02495},{"i":938,"v":1.02502},{"i":940,"v":1.02502},{"i":941,"v":1.02514},{"i":944,"v":1.02517},{"i":945,"v":1.02529},{"i":947,"v":1.02515}
],
"blue": [
{"i":0,"v":1.03188},{"i":12,"v":1.03188},{"i":14,"v":1.03207},{"i":22,"v":1.03207},{"i":23,"v":1.03213},{"i":27,"v":1.03213},{"i":28,"v":1.03232},{"i":31,"v":1.03234},{"i":46,"v":1.03234},{"i":49,"v":1.03266},{"i":69,"v":1.03266},{"i":71,"v":1.03271},{"i":72,"v":1.03274},{"i":73,"v":1.03285},{"i":89,"v":1.03287},{"i":95,"v":1.03296},{"i":101,"v":1.03301},{"i":107,"v":1.03309},{"i":112,"v":1.03312},{"i":115,"v":1.03305},{"i":118,"v":1.03287},{"i":123,"v":1.03282},{"i":128,"v":1.03271},{"i":132,"v":1.03258},{"i":136,"v":1.03242},{"i":140,"v":1.03224},{"i":143,"v":1.03204},{"i":146,"v":1.0319},{"i":149,"v":1.03177},{"i":154,"v":1.03166},{"i":159,"v":1.03161},{"i":178,"v":1.03159},{"i":182,"v":1.03157},{"i":185,"v":1.03143},{"i":187,"v":1.03123},{"i":190,"v":1.03107},{"i":193,"v":1.03099},{"i":197,"v":1.03093},{"i":203,"v":1.03089},{"i":213,"v":1.03089},{"i":216,"v":1.03093},{"i":219,"v":1.03103},{"i":222,"v":1.03116},{"i":227,"v":1.0313},{"i":231,"v":1.0313},{"i":234,"v":1.03123},{"i":236,"v":1.03096},{"i":239,"v":1.03062},{"i":242,"v":1.0304},{"i":245,"v":1.03029},{"i":250,"v":1.03015},{"i":253,"v":1.03002},{"i":258,"v":1.02988},{"i":262,"v":1.02982},{"i":266,"v":1.02972},{"i":271,"v":1.02964},{"i":276,"v":1.02955},{"i":281,"v":1.02948},{"i":287,"v":1.02941},{"i":291,"v":1.02932},{"i":295,"v":1.02921},{"i":298,"v":1.02924},{"i":302,"v":1.02934},{"i":307,"v":1.02944},{"i":311,"v":1.02955},{"i":315,"v":1.02968},{"i":318,"v":1.02978},{"i":321,"v":1.02982},{"i":327,"v":1.02982},{"i":337,"v":1.02986},{"i":343,"v":1.02988},{"i":349,"v":1.02991},{"i":355,"v":1.02994},{"i":358,"v":1.02999},{"i":364,"v":1.03002},{"i":367,"v":1.02991},{"i":371,"v":1.02964},{"i":374,"v":1.02955},{"i":378,"v":1.02934},{"i":382,"v":1.02921},{"i":385,"v":1.02907},{"i":388,"v":1.02887},{"i":391,"v":1.0287},{"i":394,"v":1.0286},{"i":399,"v":1.02847},{"i":402,"v":1.02837},{"i":407,"v":1.02827},{"i":410,"v":1.0282},{"i":414,"v":1.02802},{"i":420,"v":1.02793},{"i":426,"v":1.02789},{"i":433,"v":1.02786},{"i":439,"v":1.02783},{"i":445,"v":1.02786},{"i":451,"v":1.02783},{"i":454,"v":1.02779},{"i":460,"v":1.02775},{"i":467,"v":1.02773},{"i":473,"v":1.0277},{"i":476,"v":1.02773},{"i":482,"v":1.02779},{"i":488,"v":1.028},{"i":495,"v":1.02816},{"i":498,"v":1.0282},{"i":504,"v":1.02816},{"i":507,"v":1.02806},{"i":511,"v":1.02779},{"i":514,"v":1.02752},{"i":518,"v":1.02732},{"i":521,"v":1.02712},{"i":524,"v":1.02692},{"i":529,"v":1.02672},{"i":532,"v":1.02645},{"i":535,"v":1.02631},{"i":538,"v":1.02614},{"i":544,"v":1.02608},{"i":550,"v":1.026},{"i":553,"v":1.02591},{"i":558,"v":1.02587},{"i":561,"v":1.02611},{"i":564,"v":1.02638},{"i":566,"v":1.02665},{"i":572,"v":1.02662},{"i":578,"v":1.02658},{"i":584,"v":1.02654},{"i":587,"v":1.02645},{"i":591,"v":1.02624},{"i":594,"v":1.02611},{"i":597,"v":1.026},{"i":603,"v":1.02604},{"i":609,"v":1.02611},{"i":615,"v":1.02618},{"i":622,"v":1.02624},{"i":628,"v":1.02627},{"i":634,"v":1.02624},{"i":640,"v":1.02622},{"i":645,"v":1.02618},{"i":648,"v":1.02604},{"i":651,"v":1.02587},{"i":654,"v":1.02571},{"i":658,"v":1.02546},{"i":661,"v":1.0253},{"i":663,"v":1.02503},{"i":666,"v":1.02476},{"i":670,"v":1.02463},{"i":673,"v":1.02459},{"i":676,"v":1.02443},{"i":677,"v":1.02422},{"i":679,"v":1.02402},{"i":681,"v":1.02377},{"i":694,"v":1.02374},{"i":697,"v":1.02366},{"i":699,"v":1.02346},{"i":702,"v":1.02347},{"i":703,"v":1.02346},{"i":705,"v":1.0234},{"i":723,"v":1.0234},{"i":727,"v":1.02344},{"i":731,"v":1.0235},{"i":733,"v":1.02367},{"i":735,"v":1.02368},{"i":737,"v":1.02382},{"i":739,"v":1.02381},{"i":740,"v":1.02374},{"i":742,"v":1.02367},{"i":744,"v":1.02362},{"i":749,"v":1.02362},{"i":752,"v":1.02358},{"i":756,"v":1.02348},{"i":761,"v":1.02335},{"i":766,"v":1.02328},{"i":770,"v":1.02325},{"i":777,"v":1.02328},{"i":783,"v":1.02331},{"i":789,"v":1.02335},{"i":795,"v":1.02341},{"i":801,"v":1.02348},{"i":807,"v":1.02358},{"i":814,"v":1.02368},{"i":818,"v":1.02382},{"i":823,"v":1.02395},{"i":828,"v":1.02402},{"i":832,"v":1.02395},{"i":834,"v":1.02368},{"i":837,"v":1.02352},{"i":842,"v":1.02348},{"i":848,"v":1.02348},{"i":853,"v":1.02344},{"i":857,"v":1.02328},{"i":860,"v":1.02321},{"i":865,"v":1.02328},{"i":870,"v":1.02341},{"i":874,"v":1.02355},{"i":880,"v":1.02358},{"i":885,"v":1.02364},{"i":891,"v":1.02372},{"i":897,"v":1.02379},{"i":902,"v":1.02389},{"i":907,"v":1.02398},{"i":911,"v":1.02409},{"i":915,"v":1.02422},{"i":918,"v":1.02438},{"i":920,"v":1.02463},{"i":923,"v":1.02487},{"i":940,"v":1.02488},{"i":941,"v":1.02501},{"i":947,"v":1.02501}
]
},
"encoding": {
"x": {"field": "i", "type": "quantitative", "title": null,
 "scale": {"domain": [-0.5, 947], "nice": false, "zero": false},
 "axis": {"orient": "bottom", "values": [-0.5,15.5,31.5,47.5,63.5,79.5,95.5,111.5,127.5,143.5,159.5,175.5,191.5,207.5,223.5,239.5,255.5,271.5,287.5,303.5,319.5,335.5,351.5,367.5,383.5,399.5,415.5,431.5,447.5,463.5,479.5,495.5,511.5,527.5,543.5,559.5,575.5,591.5,607.5,623.5,639.5,655.5,671.5,687.5,703.5,719.5,735.5,751.5,767.5,783.5,799.5,815.5,831.5,847.5,863.5,879.5,895.5,911.5,927.5,943.5],
  "labelExpr": "'21 Nov ' + ['2022','00:20','00:42','01:00','01:17','01:33','01:49','02:05','02:21','02:37','02:53','03:09','03:25','03:41','03:57','04:13','04:29','04:45','05:01','05:17','05:33','05:49','06:05','06:21','06:37','06:53','07:09','07:25','07:41','07:57','08:13','08:29','08:45','09:01','09:17','09:33','09:49','10:05','10:21','10:37','10:53','11:09','11:25','11:41','11:57','12:13','12:29','12:45','13:01','13:17','13:33','13:49','14:05','14:21','14:37','14:53','15:09','15:25','15:41','15:57'][round((datum.value + 0.5) / 16)]",
  "domain": false, "grid": false, "ticks": true, "tickSize": 4, "tickColor": "#000000", "tickWidth": 1,
  "labelFont": "DejaVu Sans", "labelFontSize": 8, "labelColor": "#000000", "labelAlign": "left", "labelBaseline": "top", "labelPadding": 1,
  "labelOverlap": false, "labelBound": false, "labelFlush": false, "title": null}},
"y": {"field": "l", "type": "quantitative", "title": null,
 "scale": {"domain": [1.0223, 1.03391], "nice": false, "zero": false},
 "axis": {"orient": "right", "values": [1.02235,1.02255,1.02275,1.02295,1.02315,1.02335,1.02355,1.02375,1.02395,1.02415,1.02435,1.02455,1.02475,1.02495,1.02515,1.02535,1.02555,1.02575,1.02595,1.02615,1.02635,1.02655,1.02675,1.02695,1.02715,1.02735,1.02755,1.02775,1.02795,1.02815,1.02835,1.02855,1.02875,1.02895,1.02915,1.02935,1.02955,1.02975,1.02995,1.03015,1.03035,1.03055,1.03075,1.03095,1.03115,1.03135,1.03155,1.03175,1.03195,1.03215,1.03235,1.03255,1.03275,1.03295,1.03315,1.03335,1.03355,1.03375],
  "format": ".5f", "domain": false, "grid": false, "ticks": true, "tickSize": 4, "tickColor": "#000000", "tickWidth": 1,
  "labelFont": "DejaVu Sans", "labelFontSize": 8, "labelColor": "#000000", "labelPadding": 2, "labelAlign": "left", "labelBaseline": "middle",
  "labelOverlap": false, "labelSeparation": 0, "labelBound": false, "labelFlush": false, "title": null}}
},
"layer": [
{"data": {"name": "candles"},
 "mark": {"type": "rule", "strokeWidth": 1.5},
 "encoding": {
  "y2": {"field": "h"},
  "color": {"condition": [{"test": "datum.c > datum.o", "value": "#008000"}, {"test": "datum.c < datum.o", "value": "#ff0000"}], "value": "#9932cc"}
 }},
{"data": {"name": "candles"},
 "transform": [{"fold": ["o"], "as": ["k", "l"]}],
 "mark": {"type": "bar", "width": 8, "strokeWidth": 1},
 "encoding": {
  "y2": {"field": "c"},
  "color": {"condition": [{"test": "datum.c > datum.o", "value": "#008000"}, {"test": "datum.c < datum.o", "value": "#ff0000"}], "value": "#9932cc"},
  "stroke": {"condition": [{"test": "datum.c > datum.o", "value": "#008000"}, {"test": "datum.c < datum.o", "value": "#ff0000"}], "value": "#9932cc"}
 }},
{"data": {"name": "blue"},
 "transform": [{"fold": ["v"], "as": ["k", "l"]}],
 "mark": {"type": "line", "color": "#0000ff", "strokeWidth": 2.5, "clip": true},
 "encoding": {}},
{"data": {"name": "red"},
 "transform": [{"fold": ["v"], "as": ["k", "l"]}],
 "mark": {"type": "line", "color": "#ff0000", "strokeWidth": 2.5, "clip": true},
 "encoding": {}}
]
}
